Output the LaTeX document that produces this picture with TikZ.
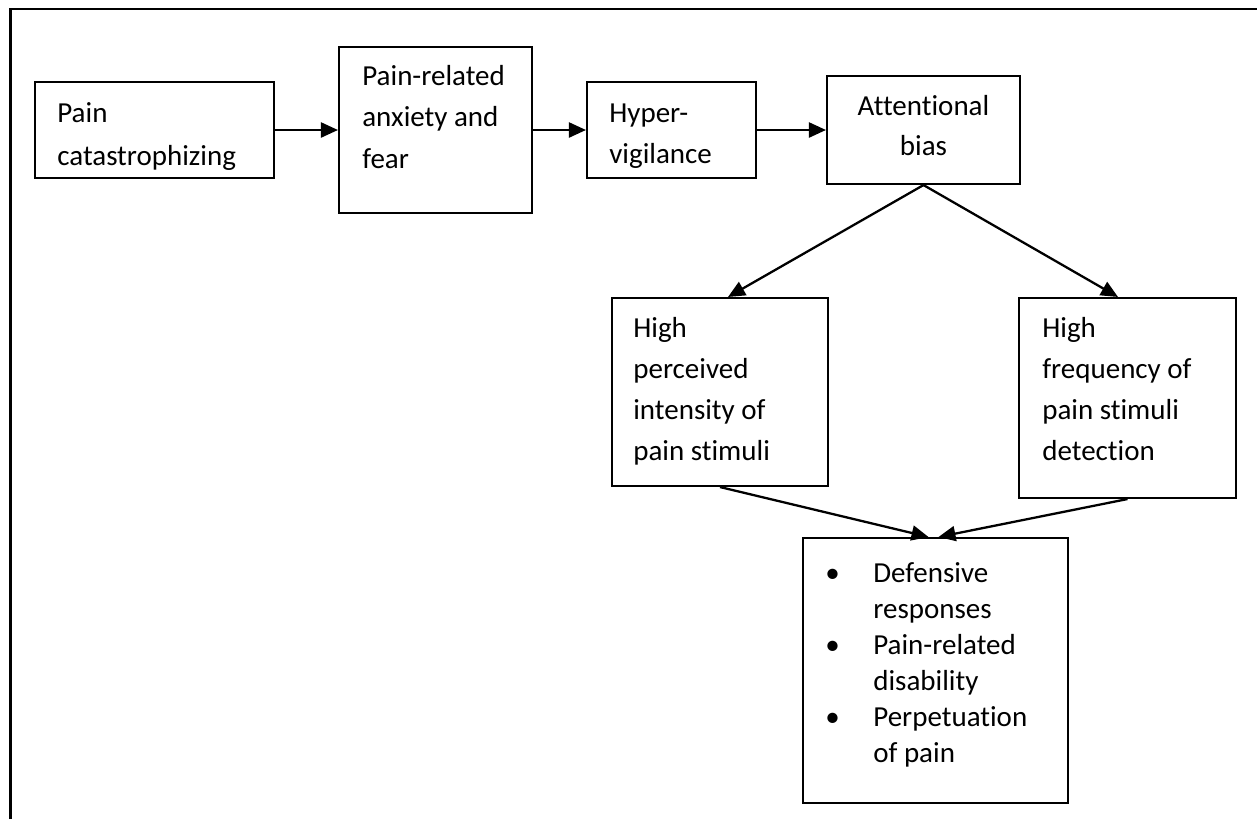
\documentclass[tikz,border=0pt]{standalone}
\usepackage{fontspec}
\setmainfont{Carlito}[Ligatures=NoCommon,RawFeature=-liga]
\usetikzlibrary{arrows.meta}
\begin{document}
\begin{tikzpicture}[x=0.02cm,y=-0.02cm,
  bx/.style={draw, line width=1.2pt, inner sep=0pt, minimum width=#1},
  txt/.style={font=\fontsize{16.5pt}{#1}\selectfont, align=left, anchor=north west, inner sep=0pt},
  arr/.style={line width=1.3pt, -{Triangle[length=0.34cm,width=0.3cm]}},
  frame/.style={line width=1.2pt}]
\useasboundingbox (0,0) rectangle (1257,819);
% page frame
\coordinate (fb) at (10.5,819);
\coordinate (ftl) at (10.5,9);
\coordinate (ftr) at (1257,9);
\draw[frame] (fb) -- (ftl) -- (ftr);
% boxes
\node[bx=4.78cm, minimum height=1.92cm] (b1) at (154.5,130) {};
\node[bx=3.86cm, minimum height=3.32cm] (b2) at (435.5,130) {};
\node[bx=3.38cm, minimum height=1.92cm] (b3) at (671.5,130) {};
\node[bx=3.86cm, minimum height=2.16cm] (b4) at (923.5,130) {};
\node[bx=4.32cm, minimum height=3.76cm] (b5) at (720,392) {};
\node[bx=4.34cm, minimum height=4.0cm] (b6) at (1127.5,398) {};
\node[bx=5.3cm, minimum height=5.3cm] (b7) at (935.5,670.5) {};
% texts
\node[txt=24.5pt] (t1) at (57,97) {\rule{0pt}{0.5cm}Pain\\catastrophizing};
\node[txt=23.6pt] (t2) at (362,60) {\rule{0pt}{0.5cm}Pain-related\\anxiety and\\fear};
\node[txt=23.3pt] (t3) at (609,97) {\rule{0pt}{0.5cm}Hyper-\\vigilance};
\node[txt=22.8pt, anchor=north, align=center] (t4) at (923.5,90) {\rule{0pt}{0.5cm}Attentional\\bias};
\node[txt=23.3pt] (t5) at (633,312) {\rule{0pt}{0.5cm}High\\perceived\\intensity of\\pain stimuli};
\node[txt=23.3pt] (t6) at (1042,312) {\rule{0pt}{0.5cm}High\\frequency of\\pain stimuli\\detection};
\node[txt=20.5pt] (t7) at (825,557) {\rule{0pt}{0.5cm}\makebox[0.96cm][l]{•}Defensive\\
  \hspace*{0.96cm}responses\\
  \makebox[0.96cm][l]{•}Pain-related\\
  \hspace*{0.96cm}disability\\
  \makebox[0.96cm][l]{•}Perpetuation\\
  \hspace*{0.96cm}of pain};
% connectors
\draw[arr] (b1.east) -- (b2.west);
\draw[arr] (b2.east) -- (b3.west);
\draw[arr] (b3.east) -- (b4.west);
\draw[arr] (b4.south) -- ([xshift=0.16cm]b5.north);
\draw[arr] (b4.south) -- ([xshift=-0.19cm]b6.north);
\draw[arr] (b5.south) -- ([xshift=-0.14cm]b7.north);
\draw[arr] (b6.south) -- ([xshift=0.06cm]b7.north);
\end{tikzpicture}
\end{document}
